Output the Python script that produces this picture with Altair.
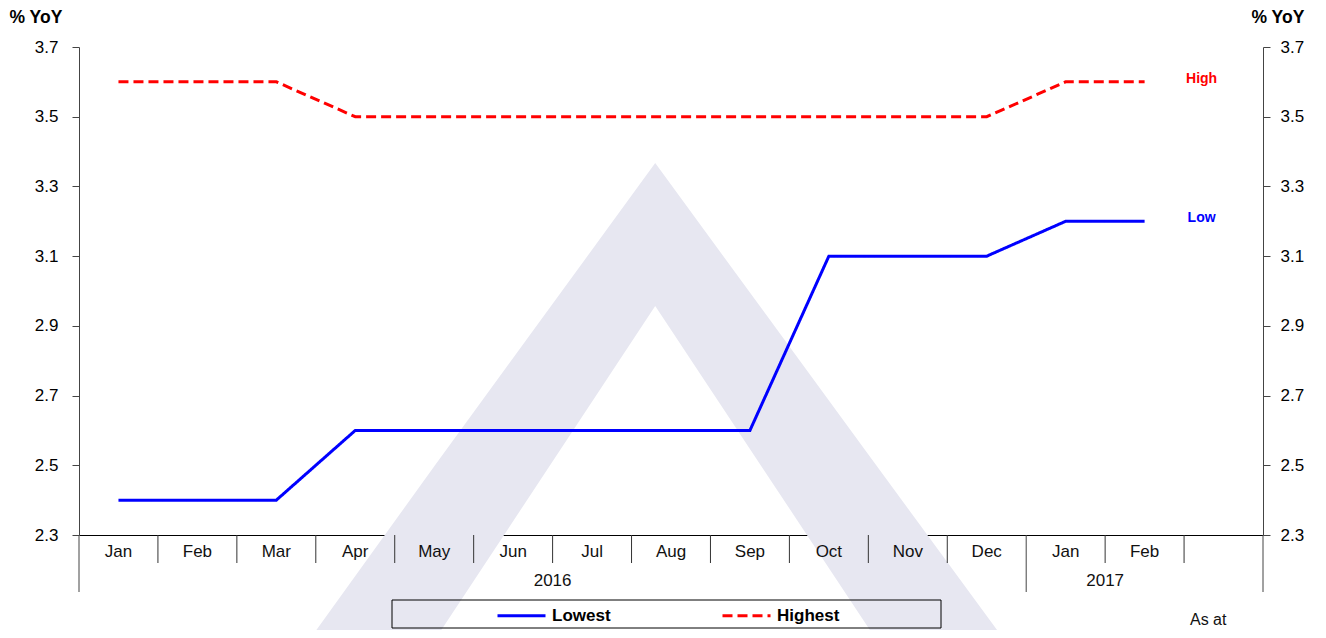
import altair as alt
import pandas as pd

# ---- data ----
months = ["Jan", "Feb", "Mar", "Apr", "May", "Jun", "Jul", "Aug", "Sep", "Oct", "Nov", "Dec", "Jan", "Feb"]
years = ["2016"] * 12 + ["2017"] * 2
lowest = [2.4, 2.4, 2.4, 2.6, 2.6, 2.6, 2.6, 2.6, 2.6, 3.1, 3.1, 3.1, 3.2, 3.2]
highest = [3.6, 3.6, 3.6, 3.5, 3.5, 3.5, 3.5, 3.5, 3.5, 3.5, 3.5, 3.5, 3.6, 3.6]
series_names = ["Lowest", "Highest"]
series_colors = ["#0000FF", "#FF0000"]
end_labels = ["Low", "High"]
y_ticks = [2.3, 2.5, 2.7, 2.9, 3.1, 3.3, 3.5, 3.7]
n_slots = len(months) + 1  # one empty slot after the last month

# faint "A" logo watermark, in chart units
logo_x = [2.92, 4.51, 7.30, 10.10, 11.72]
logo_top = [2.0, 2.5, 3.367, 2.5, 2.0]
logo_bottom = [2.0, 2.0, 2.957, 2.0, 2.0]

FONT = "Liberation Sans"
W, H = 1184, 488

# ---- tables ----
rows = []
for name, vals in zip(series_names, [lowest, highest]):
    for i, v in enumerate(vals):
        rows.append({"series": name, "pos": i + 0.5, "value": v})
df = pd.DataFrame(rows)

df_months = pd.DataFrame({"pos": [i + 0.5 for i in range(len(months))], "label": months})

year_rows = []
for y in dict.fromkeys(years):
    idx = [i for i, yy in enumerate(years) if yy == y]
    year_rows.append({"year": y, "pos": (idx[0] + idx[-1] + 1) / 2})
df_years = pd.DataFrame(year_rows)

year_starts = {0, n_slots} | {i for i in range(1, len(years)) if years[i] != years[i - 1]}
df_short = pd.DataFrame({"b": [k for k in range(1, n_slots) if k not in year_starts]})
df_long = pd.DataFrame({"b": sorted(year_starts)})

df_end = pd.DataFrame({
    "series": series_names,
    "label": end_labels,
    "pos": [len(months) - 0.5] * 2,
    "value": [lowest[-1], highest[-1]],
})

df_logo = pd.DataFrame({"x": logo_x, "top": logo_top, "bottom": logo_bottom})

# ---- scales / axes ----
xs = alt.Scale(domain=[0, n_slots], nice=False, zero=False)
ys = alt.Scale(domain=[2.3, 3.7], nice=False, zero=False)
x_axis = alt.Axis(labels=False, ticks=False, grid=False, title=None, domainColor="#000000", domainWidth=1)


def X(field):
    return alt.X(field, scale=xs, axis=x_axis)


def y_axis(orient, title_x, pad):
    return alt.Axis(
        orient=orient, values=y_ticks, format=".1f", grid=False,
        tickSize=7, tickColor="#444444", domainColor="#444444",
        labelFont=FONT, labelFontSize=17, labelColor="#000000", labelPadding=pad,
        title="% YoY", titleAngle=0, titleFont=FONT, titleFontSize=17.5,
        titleFontWeight="bold", titleColor="#000000", titleAlign="left",
        titleBaseline="middle", titleX=title_x, titleY=-30,
    )


legend = alt.Legend(
    orient="none", legendX=417, legendY=543, direction="horizontal", title=None,
    symbolType="stroke", symbolSize=2304, symbolStrokeWidth=3,
    labelFont=FONT, labelFontSize=17, labelFontWeight="bold", labelColor="#000000",
    labelOffset=5, columnPadding=105, padding=0,
)

color = alt.Color("series:N", scale=alt.Scale(domain=series_names, range=series_colors), legend=legend)
dash = alt.StrokeDash("series:N", scale=alt.Scale(domain=series_names, range=[[1, 0], [10, 5]]), legend=legend)

watermark = alt.Chart(df_logo).mark_area(color="#E7E7F1", clip=False).encode(
    x=X("x:Q"),
    y=alt.Y("top:Q", scale=ys, axis=None),
    y2="bottom:Q",
)

short_rules = alt.Chart(df_short).mark_rule(color="#333333", strokeWidth=1).encode(
    x=X("b:Q"), y=alt.value(H), y2=alt.value(H + 28)
)
long_rules = alt.Chart(df_long).mark_rule(color="#444444", strokeWidth=1).encode(
    x=X("b:Q"), y=alt.value(H), y2=alt.value(H + 57)
)

lines = alt.Chart(df).mark_line(strokeWidth=3, clip=False).encode(
    x=X("pos:Q"),
    y=alt.Y("value:Q", scale=ys, axis=y_axis("left", -70, 14)),
    color=color,
    strokeDash=dash,
    order="pos:Q",
)

month_text = alt.Chart(df_months).mark_text(
    font=FONT, fontSize=17, color="#111111", baseline="middle", align="center"
).encode(x=X("pos:Q"), y=alt.value(H + 17), text="label:N")

year_text = alt.Chart(df_years).mark_text(
    font=FONT, fontSize=17, color="#111111", baseline="middle", align="center"
).encode(x=X("pos:Q"), y=alt.value(H + 46), text="year:N")

end_text = alt.Chart(df_end).mark_text(
    font=FONT, fontSize=14, fontWeight="bold", align="center", baseline="middle", dx=57, dy=-3
).encode(
    x=X("pos:Q"),
    y=alt.Y("value:Q", scale=ys, axis=y_axis("right", -12, 10)),
    text="label:N",
    color=alt.Color("series:N", scale=alt.Scale(domain=series_names, range=series_colors), legend=None),
)

legend_box = alt.Chart(pd.DataFrame({"k": [0]})).mark_rect(
    fillOpacity=0, stroke="#000000", strokeWidth=1
).encode(x=alt.value(313), x2=alt.value(862), y=alt.value(553), y2=alt.value(581))

as_at = alt.Chart(pd.DataFrame({"t": ["As at"]})).mark_text(
    font=FONT, fontSize=16, color="#111111", align="left", baseline="middle"
).encode(x=alt.value(1111), y=alt.value(573), text="t:N")

chart = alt.layer(
    watermark, short_rules, long_rules, lines, month_text, year_text, end_text, legend_box, as_at
).resolve_axis(y="independent").properties(
    width=W, height=H,
    padding={"left": 71, "top": 39, "right": 47, "bottom": 95},
    autosize=alt.AutoSizeParams(type="none"),
    view=alt.ViewBackground(stroke="transparent", strokeWidth=0),
).configure_view(strokeWidth=0, stroke="transparent").configure(background="white")

chart.save("out.html", embed_options={"renderer": "svg", "actions": False})
